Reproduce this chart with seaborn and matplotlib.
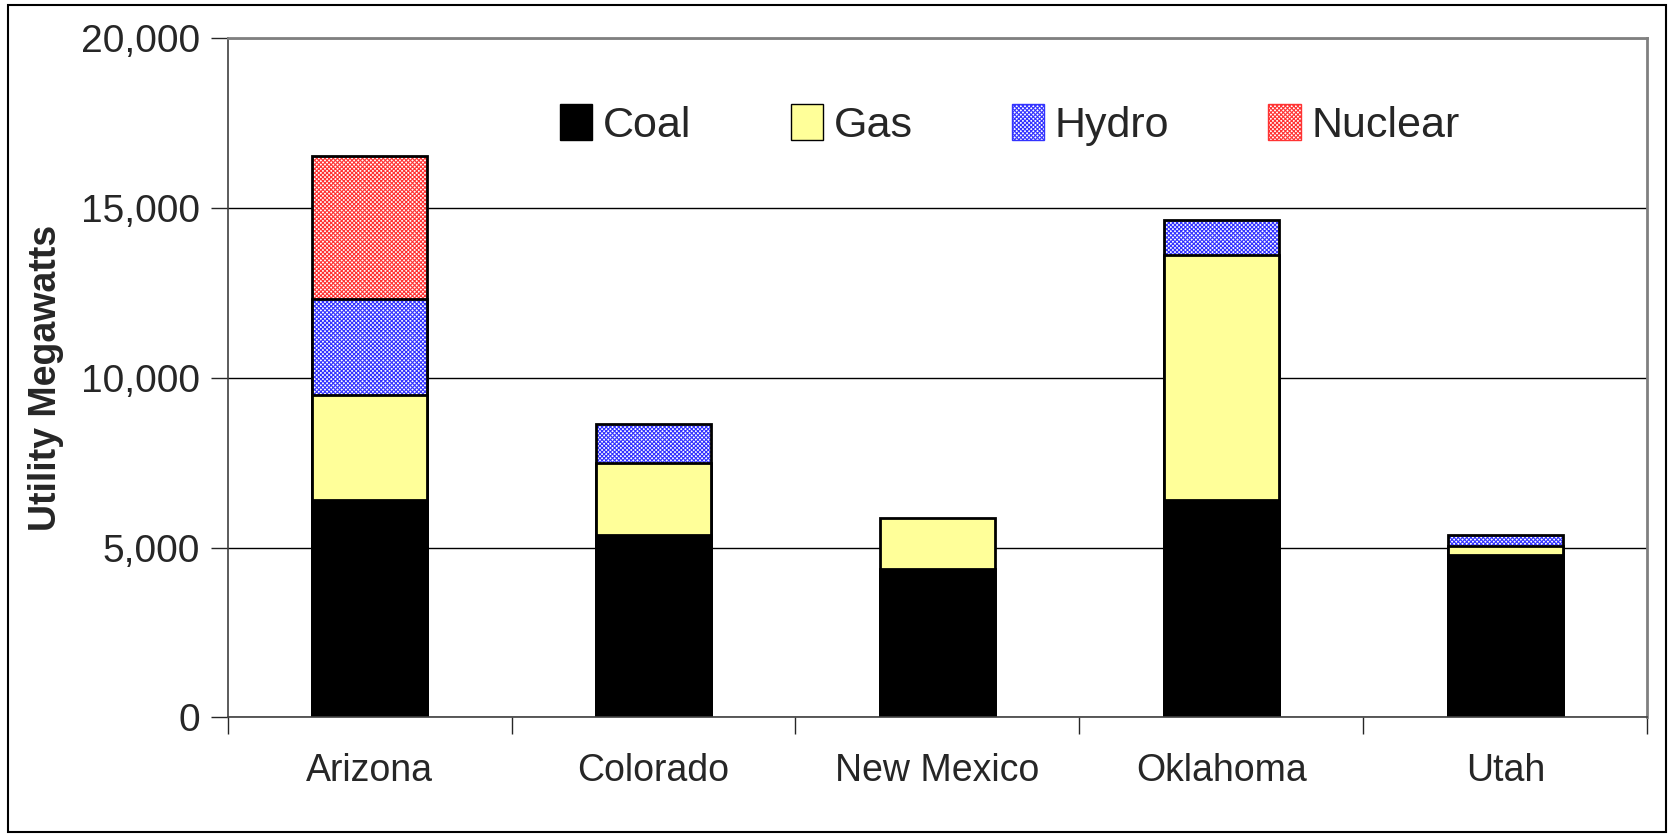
import numpy as np
import pandas as pd
import matplotlib
matplotlib.use("Agg")
import matplotlib.pyplot as plt
import seaborn as sns
from matplotlib.patches import Rectangle, Patch

## data (MW)
states = ["Arizona", "Colorado", "New Mexico", "Oklahoma", "Utah"]
coal = [6400, 5370, 4360, 6400, 4780]
gas = [3080, 2130, 1510, 7230, 260]
hydro = [2830, 1130, 0, 1030, 320]
nuclear = [4240, 0, 0, 0, 0]

fuels = ["Coal", "Gas", "Hydro", "Nuclear"]
face = {"Coal": "black", "Gas": "#FFFF99", "Hydro": "white", "Nuclear": "white"}
hatchcol = {"Hydro": "#3333FF", "Nuclear": "#FF3333"}

df = pd.DataFrame({"state": states, "Coal": coal, "Gas": gas,
                   "Hydro": hydro, "Nuclear": nuclear})
# cumulative tops, drawn from the tallest layer down
cum = df[fuels].cumsum(axis=1)

sns.set_style("white")
plt.rcParams["font.family"] = ["Liberation Sans", "DejaVu Sans"]
plt.rcParams["hatch.linewidth"] = 0.8

fig, ax = plt.subplots(figsize=(16.74, 8.35), dpi=100)
fig.subplots_adjust(left=0.136, right=0.984, top=0.954, bottom=0.141)

W = 0.405
for f in reversed(fuels):
    d = pd.DataFrame({"state": states, "top": cum[f]})
    d.loc[df[f] == 0, "top"] = 0
    if f in hatchcol:
        sns.barplot(data=d, x="state", y="top", order=states, color="white",
                    width=W, saturation=1, edgecolor=hatchcol[f], hatch="xxxxxxxx",
                    linewidth=0, ax=ax)
        sns.barplot(data=d, x="state", y="top", order=states, fill=False,
                    width=W, edgecolor="black", linewidth=2, ax=ax)
    else:
        sns.barplot(data=d, x="state", y="top", order=states, color=face[f],
                    width=W, saturation=1, edgecolor="black", linewidth=2, ax=ax)

ax.set_ylim(0, 20000)
ax.set_xlim(-0.5, 4.5)
ax.set_yticks([0, 5000, 10000, 15000, 20000])
ax.set_yticklabels(["0", "5,000", "10,000", "15,000", "20,000"])
ax.yaxis.grid(True, color="black", linewidth=1)
ax.set_axisbelow(True)
ax.tick_params(axis="y", labelsize=28, left=True, length=12, width=1, pad=8, direction="out")
ax.tick_params(axis="x", labelsize=27, bottom=False, pad=22)
ax.set_xticks(np.arange(-0.5, 5, 1), minor=True)
ax.tick_params(axis="x", which="minor", bottom=True, length=12, width=1, direction="out")
ax.set_xlabel("")
ax.set_ylabel("Utility Megawatts", fontsize=27, fontweight="bold", labelpad=12)

for s in ["top", "right"]:
    ax.spines[s].set_color("#808080")
    ax.spines[s].set_linewidth(2)
for s in ["left", "bottom"]:
    ax.spines[s].set_color("#404040")
    ax.spines[s].set_linewidth(1.2)

handles = [Patch(facecolor="black", edgecolor="black"),
           Patch(facecolor="#FFFF99", edgecolor="black"),
           Patch(facecolor="white", edgecolor="#3333FF", hatch="xxxxxxxx"),
           Patch(facecolor="white", edgecolor="#FF3333", hatch="xxxxxxxx")]
ax.legend(handles, fuels, ncol=4, loc="center", bbox_to_anchor=(0.551, 0.872),
          frameon=False, fontsize=31, handlelength=0.75, handleheight=0.9,
          handletextpad=0.25, columnspacing=2.3)

fig.add_artist(Rectangle((0.005, 0.004), 0.99, 0.99, transform=fig.transFigure,
                         fill=False, edgecolor="black", linewidth=1.5))

fig.savefig("out.png", dpi=100)
